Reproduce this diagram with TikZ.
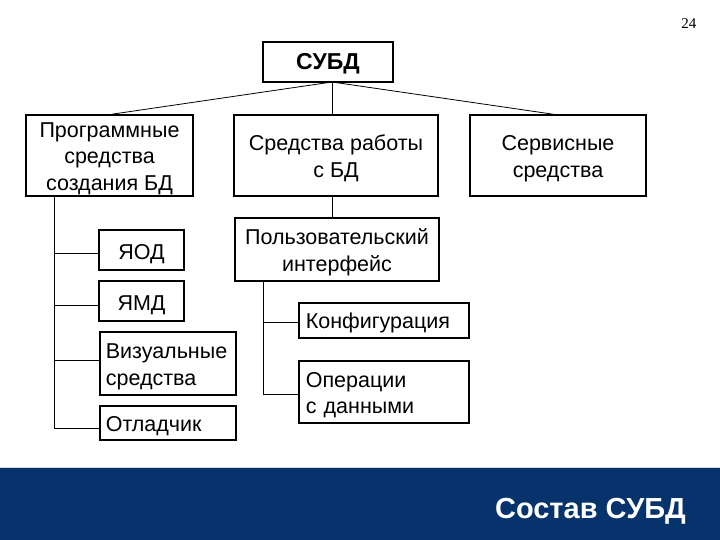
\documentclass[tikz,border=0pt]{standalone}
\usepackage{fontspec}
\setmainfont{Liberation Sans}
\newfontfamily\numfont{Liberation Serif}
\definecolor{navy}{HTML}{06336C}
\newcommand\ctxt[2][3pt]{\raisebox{-#1}[\height][\depth]{\begin{tabular}{@{}c@{}}#2\end{tabular}}}
\newcommand\ltxt[2][3pt]{\raisebox{-#1}[\height][\depth]{\begin{tabular}{@{}l@{}}#2\end{tabular}}}
\begin{document}
\begin{tikzpicture}[x=1pt,y=-1pt,
  box/.style={draw=black,line width=1.6pt,inner sep=0pt,font=\fontsize{21.5}{26.5}\selectfont},
  lbox/.style={box,anchor=west},
  conn/.style={draw=black,line width=0.8pt}]
\useasboundingbox (0,0) rectangle (720,540);
\fill[white] (0,0) rectangle (720,540);
\fill[navy] (0,468) rectangle (720,540);
\draw[line width=0.8pt,gray!30] (0,467) -- (720,467);
\node[font=\numfont\fontsize{15}{18}\selectfont,anchor=east] (pg) at (700,24) {24};
% top
\node[box,minimum width=130pt,minimum height=40pt,font=\bfseries\fontsize{23}{27}\selectfont] (subd) at (328,62) {\ctxt[2pt]{СУБД}};
\node[box,minimum width=167pt,minimum height=81pt] (prog) at (109.5,155.5) {\ctxt{Программные\\средства\\создания БД}};
\node[box,minimum width=204pt,minimum height=81pt] (work) at (336,155.5) {\ctxt{Средства работы\\с БД}};
\node[box,minimum width=176pt,minimum height=81pt] (serv) at (558,155.5) {\ctxt{Сервисные\\средства}};
\coordinate (hub) at (332,82);
\draw[conn] (hub) -- (prog.north -| 112,0);
\draw[conn] (hub) -- (work.north -| hub);
\draw[conn] (hub) -- (serv.north -| 553,0);
% left column
\node[box,minimum width=85pt,minimum height=40pt] (yod) at (141.5,250) {\ctxt[4pt]{ЯОД}};
\node[box,minimum width=85pt,minimum height=40pt] (ymd) at (141.5,301) {\ctxt[4pt]{ЯМД}};
\node[lbox,minimum width=136pt,minimum height=63pt,text width=124pt,inner xsep=6pt] (vis) at (99,363.5) {\ltxt{Визуальные\\средства}};
\node[lbox,minimum width=136pt,minimum height=34pt,text width=124pt,inner xsep=6pt] (dbg) at (99,423) {\ltxt{Отладчик}};
\coordinate (lv) at (54,196);
\coordinate (lend) at (54,428);
\draw[conn] (lv) -- (lend) -- (lend -| dbg.west);
\draw[conn] (lv |- 0,253) -- (yod.west |- 0,253);
\draw[conn] (lv |- 0,305) -- (ymd.west |- 0,305);
\draw[conn] (lv |- 0,360) -- (vis.west |- 0,360);
% middle column
\node[box,minimum width=204pt,minimum height=63pt] (ui) at (337,249.5) {\ctxt{Пользовательский\\интерфейс}};
\draw[conn] (work.south -| hub) -- (ui.north -| hub);
\node[lbox,minimum width=170pt,minimum height=35pt,text width=156pt,inner xsep=7pt] (conf) at (298,320.5) {\ltxt{Конфигурация}};
\node[lbox,minimum width=170pt,minimum height=62pt,text width=156pt,inner xsep=7pt] (ops) at (298,392) {\ltxt{Операции\\с данными}};
\coordinate (mv) at (263,281);
\coordinate (mend) at (263,394);
\draw[conn] (mv) -- (mend) -- (mend -| ops.west);
\draw[conn] (mv |- 0,322) -- (conf.west |- 0,322);
% banner title
\node[font=\bfseries\fontsize{29}{34}\selectfont,text=white,anchor=base east,inner sep=0pt] (title) at (686,518) {Состав СУБД};
\end{tikzpicture}
\end{document}
